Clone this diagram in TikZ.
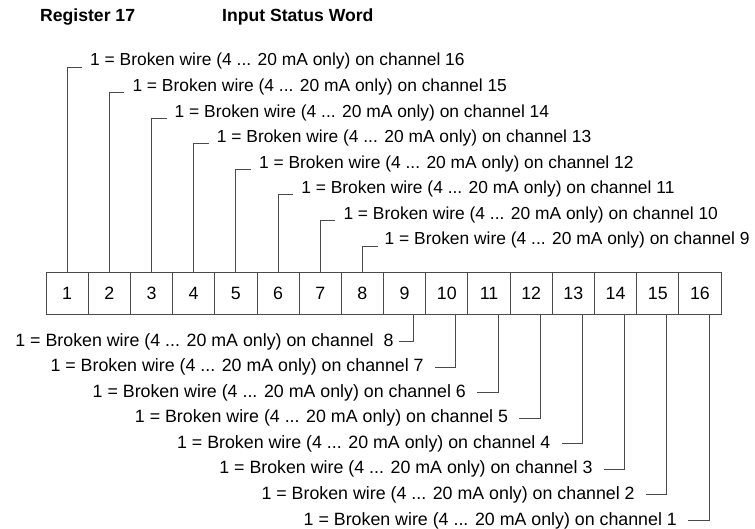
\documentclass[tikz,border=0pt]{standalone}
\usepackage{fontspec}
\setmainfont{Liberation Sans}
\usetikzlibrary{positioning}
\definecolor{Ink}{HTML}{000000}
\definecolor{Rule}{HTML}{4A4A4A}
\tikzset{
  cellbox/.style={draw=Rule,line width=0.9pt,minimum width=42.19pt,minimum height=42pt,inner sep=0pt,outer sep=0pt,text=Ink,font=\fontsize{17.8}{21}\selectfont},
  headtext/.style={anchor=base west,inner sep=0pt,text=Ink,font=\fontsize{17.6}{21}\selectfont\bfseries},
  uptext/.style={anchor=base west,inner sep=0pt,text=Ink,font=\fontsize{17.4}{21}\selectfont},
  lowtext/.style={anchor=east,inner sep=0pt,text=Ink,font=\fontsize{17.8}{21}\selectfont},
  lead/.style={draw=Rule,line width=0.9pt}
}
\begin{document}
\begin{tikzpicture}[x=1pt,y=1pt,node distance=0pt]
  \useasboundingbox (0,0) rectangle (755,-529);
  \node[headtext] (reg) at (40,-22) {Register 17};
  \node[headtext] (word) at (222,-22) {Input Status Word};
  % status word cells
  \node[cellbox,anchor=north west] (c1) at (46,-272) {1};
  \node[cellbox,right=of c1] (c2) {2};
  \node[cellbox,right=of c2] (c3) {3};
  \node[cellbox,right=of c3] (c4) {4};
  \node[cellbox,right=of c4] (c5) {5};
  \node[cellbox,right=of c5] (c6) {6};
  \node[cellbox,right=of c6] (c7) {7};
  \node[cellbox,right=of c7] (c8) {8};
  \node[cellbox,right=of c8] (c9) {9};
  \node[cellbox,right=of c9] (c10) {10};
  \node[cellbox,right=of c10] (c11) {11};
  \node[cellbox,right=of c11] (c12) {12};
  \node[cellbox,right=of c12] (c13) {13};
  \node[cellbox,right=of c13] (c14) {14};
  \node[cellbox,right=of c14] (c15) {15};
  \node[cellbox,right=of c15] (c16) {16};
  % channels 16 ... 9
  \node[uptext] (t16) at (90,-66) {1 = Broken wire (4 ... 20 mA only) on channel 16};
  \node[uptext] (t15) at (132.3,-91.6) {1 = Broken wire (4 ... 20 mA only) on channel 15};
  \node[uptext] (t14) at (174.5,-117.1) {1 = Broken wire (4 ... 20 mA only) on channel 14};
  \node[uptext] (t13) at (216.7,-142.7) {1 = Broken wire (4 ... 20 mA only) on channel 13};
  \node[uptext] (t12) at (258.9,-168.3) {1 = Broken wire (4 ... 20 mA only) on channel 12};
  \node[uptext] (t11) at (301.1,-193.9) {1 = Broken wire (4 ... 20 mA only) on channel 11};
  \node[uptext] (t10) at (343.3,-219.4) {1 = Broken wire (4 ... 20 mA only) on channel 10};
  \node[uptext] (t9) at (384.5,-245) {1 = Broken wire (4 ... 20 mA only) on channel 9};
  \draw[lead] (c1.north) |- ([xshift=-8pt,yshift=-1pt]t16.base west);
  \draw[lead] (c2.north) |- ([xshift=-8pt,yshift=-1pt]t15.base west);
  \draw[lead] (c3.north) |- ([xshift=-8pt,yshift=-1pt]t14.base west);
  \draw[lead] (c4.north) |- ([xshift=-8pt,yshift=-1pt]t13.base west);
  \draw[lead] (c5.north) |- ([xshift=-8pt,yshift=-1pt]t12.base west);
  \draw[lead] (c6.north) |- ([xshift=-8pt,yshift=-1pt]t11.base west);
  \draw[lead] (c7.north) |- ([xshift=-8pt,yshift=-1pt]t10.base west);
  \draw[lead] (c8.north) |- ([xshift=-7pt,yshift=-1pt]t9.base west);
  % channels 8 ... 1
  \node[lowtext] (t8) at (393.7,-341.4) {1 = Broken wire (4 ... 20 mA only) on channel \ 8};
  \node[lowtext] (t7) at (423.9,-367) {1 = Broken wire (4 ... 20 mA only) on channel 7};
  \node[lowtext] (t6) at (466.1,-392.5) {1 = Broken wire (4 ... 20 mA only) on channel 6};
  \node[lowtext] (t5) at (508.3,-418.1) {1 = Broken wire (4 ... 20 mA only) on channel 5};
  \node[lowtext] (t4) at (550.5,-443.7) {1 = Broken wire (4 ... 20 mA only) on channel 4};
  \node[lowtext] (t3) at (592.7,-469.3) {1 = Broken wire (4 ... 20 mA only) on channel 3};
  \node[lowtext] (t2) at (634.9,-494.8) {1 = Broken wire (4 ... 20 mA only) on channel 2};
  \node[lowtext] (t1) at (677.1,-520.4) {1 = Broken wire (4 ... 20 mA only) on channel 1};
  \draw[lead] ([xshift=9pt]c9.south) |- ([xshift=5pt]t8.east);
  \draw[lead] ([xshift=9pt]c10.south) |- ([xshift=11pt]t7.east);
  \draw[lead] ([xshift=9pt]c11.south) |- ([xshift=11pt]t6.east);
  \draw[lead] ([xshift=9pt]c12.south) |- ([xshift=11pt]t5.east);
  \draw[lead] ([xshift=9pt]c13.south) |- ([xshift=11pt]t4.east);
  \draw[lead] ([xshift=9pt]c14.south) |- ([xshift=11pt]t3.east);
  \draw[lead] ([xshift=9pt]c15.south) |- ([xshift=11pt]t2.east);
  \draw[lead] ([xshift=9pt]c16.south) |- ([xshift=11pt]t1.east);
\end{tikzpicture}
\end{document}
